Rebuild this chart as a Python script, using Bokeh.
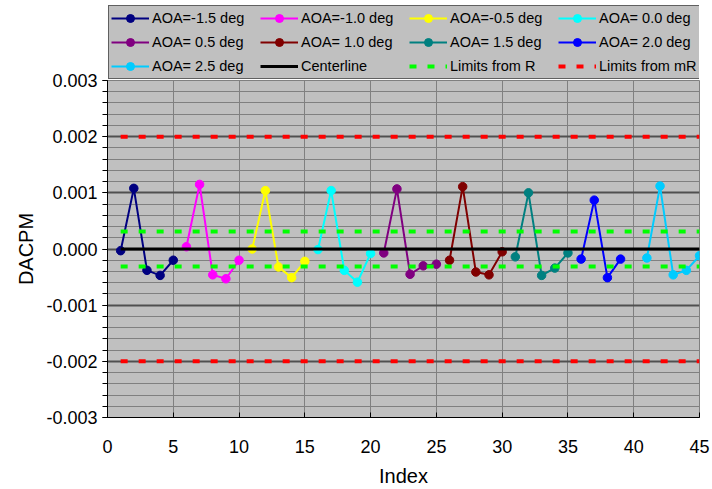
from bokeh.plotting import figure
from bokeh.layouts import column
from bokeh.models import (Legend, LegendItem, SingleIntervalTicker, NumeralTickFormatter,
                          Range1d)
from bokeh.embed import file_html
from bokeh.resources import INLINE

labels = ["AOA=-1.5 deg", "AOA=-1.0 deg", "AOA=-0.5 deg", "AOA= 0.0 deg", "AOA= 0.5 deg",
          "AOA= 1.0 deg", "AOA= 1.5 deg", "AOA= 2.0 deg", "AOA= 2.5 deg"]
colors = ["#000080", "#FF00FF", "#FFFF00", "#00FFFF", "#800080",
          "#800000", "#008080", "#0000FF", "#00CCFF"]
xs = [
    [1, 2, 3, 4, 5],
    [6, 7, 8, 9, 10],
    [11, 12, 13, 14, 15],
    [16, 17, 18, 19, 20],
    [21, 22, 23, 24, 25],
    [26, 27, 28, 29, 30],
    [31, 32, 33, 34, 35],
    [36, 37, 38, 39],
    [41, 42, 43, 44, 45],
]
ys = [
    [-0.00003, 0.00108, -0.00038, -0.00047, -0.00020],
    [0.00004, 0.00115, -0.00046, -0.00053, -0.00020],
    [0.00000, 0.00104, -0.00032, -0.00051, -0.00022],
    [-0.00001, 0.00104, -0.00038, -0.00059, -0.00008],
    [-0.00007, 0.00107, -0.00045, -0.00030, -0.00027],
    [-0.00020, 0.00111, -0.00041, -0.00046, -0.00005],
    [-0.00014, 0.00100, -0.00047, -0.00034, -0.00007],
    [-0.00018, 0.00087, -0.00051, -0.00018],
    [-0.00016, 0.00112, -0.00046, -0.00038, -0.00012],
]
center_x = [1, 45]
center_y = [0.0, 0.0]
ucl_r, lcl_r = 0.00031, -0.00031
ucl_mr, lcl_mr = 0.002, -0.002

DASH = "7 11"

p = figure(width=712, height=423, output_backend="svg", toolbar_location=None,
           x_range=Range1d(0, 45), y_range=Range1d(-0.003, 0.003),
           min_border_left=107, min_border_right=13, min_border_top=14, min_border_bottom=70,
           margin=(-14, 0, 0, 0))
p.background_fill_color = "#C0C0C0"
p.border_fill_color = "white"
p.border_fill_alpha = 0.0
p.outline_line_color = "#808080"

# axes
p.xaxis.ticker = SingleIntervalTicker(interval=5, num_minor_ticks=0)
p.yaxis.ticker = SingleIntervalTicker(interval=0.001, num_minor_ticks=5)
p.yaxis.formatter = NumeralTickFormatter(format="0.000")
for ax in (p.xaxis[0], p.yaxis[0]):
    ax.axis_line_color = "black"
    ax.axis_line_width = 1
    ax.major_tick_line_color = "black"
    ax.minor_tick_line_color = "black"
    ax.major_label_text_font = "Liberation Sans"
    ax.major_label_text_font_size = "18px"
    ax.major_label_text_color = "black"
    ax.axis_label_text_font = "Liberation Sans"
    ax.axis_label_text_font_size = "20px"
    ax.axis_label_text_font_style = "normal"
    ax.axis_label_text_color = "black"
p.xaxis.major_tick_in = 5
p.xaxis.major_tick_out = 0
p.xaxis.major_label_standoff = 22
p.xaxis.axis_label = "Index"
p.xaxis.axis_label_standoff = 9
p.yaxis.major_tick_in = 0
p.yaxis.major_tick_out = 5
p.yaxis.minor_tick_in = 0
p.yaxis.minor_tick_out = 5
p.yaxis.major_label_standoff = 5
p.yaxis.axis_label = "DACPM"
p.yaxis.axis_label_standoff = 6

# grids
p.xgrid.grid_line_color = "#808080"
p.xgrid.grid_line_width = 1
p.ygrid.grid_line_color = "#505050"
p.ygrid.grid_line_width = 2
p.ygrid.minor_grid_line_color = "#808080"
p.ygrid.minor_grid_line_width = 1

for col, x, y in zip(colors, xs, ys):
    p.line(x, y, line_color=col, line_width=2)
    p.scatter(x, y, marker="circle", size=8.5, fill_color=col, line_color=col)

p.line(center_x, center_y, line_color="black", line_width=3)
p.line(center_x, [ucl_r, ucl_r], line_color="#00FF00", line_width=4, line_dash=DASH)
p.line(center_x, [lcl_r, lcl_r], line_color="#00FF00", line_width=4, line_dash=DASH)
p.line(center_x, [ucl_mr, ucl_mr], line_color="#FF0000", line_width=4, line_dash=DASH)
p.line(center_x, [lcl_mr, lcl_mr], line_color="#FF0000", line_width=4, line_dash=DASH)

# legend figure (sits above the chart); its sample glyphs lie outside its ranges
lf = figure(width=712, height=80, output_backend="svg", toolbar_location=None,
            x_range=Range1d(0, 1), y_range=Range1d(0, 1),
            x_axis_location=None, y_axis_location=None,
            min_border=0, outline_line_color=None)
lf.xgrid.visible = False
lf.ygrid.visible = False
off_x = [-10, -9]
off_y = [-10, -10]
items = []
for lab, col in zip(labels, colors):
    lr = lf.line(off_x, off_y, line_color=col, line_width=2)
    sr = lf.scatter(off_x, off_y, marker="circle", size=8.5, fill_color=col, line_color=col)
    items.append(LegendItem(label=lab, renderers=[lr, sr]))
cr = lf.line(off_x, off_y, line_color="black", line_width=3)
items.append(LegendItem(label="Centerline", renderers=[cr]))
g1 = lf.line(off_x, off_y, line_color="#00FF00", line_width=4, line_dash=DASH)
items.append(LegendItem(label="Limits from R", renderers=[g1]))
r1 = lf.line(off_x, off_y, line_color="#FF0000", line_width=4, line_dash=DASH)
items.append(LegendItem(label="Limits from mR", renderers=[r1]))

legend = Legend(items=items, orientation="horizontal", ncols=4, location=(1, 1),
                background_fill_color="#C0C0C0", background_fill_alpha=1.0,
                border_line_color="black", border_line_width=1,
                label_text_font="Liberation Sans", label_text_font_size="14.5px",
                label_text_color="black",
                glyph_width=38, glyph_height=20, label_height=20, label_width=104,
                label_standoff=3, spacing=4, padding=2, margin=0)
lf.add_layout(legend, "center")

layout = column(lf, p, spacing=0)
open("out.html", "w").write(file_html(layout, INLINE))
